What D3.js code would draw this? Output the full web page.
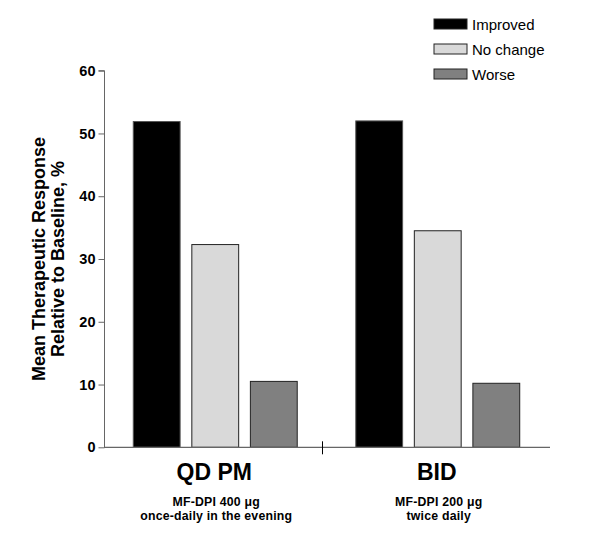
<!DOCTYPE html>
<html>
<head>
<meta charset="utf-8">
<script src="https://cdn.jsdelivr.net/npm/d3@7"></script>
<style>
  body { margin: 0; background: #fff; }
  svg { display: block; font-family: "Liberation Sans", Arial, sans-serif; }
</style>
</head>
<body>
<svg id="chart" width="600" height="540"></svg>
<script>
const groups = ["QD PM", "BID"];
const groupSub1 = ["MF-DPI 400 \u03bcg", "MF-DPI 200 \u03bcg"];
const groupSub2 = ["once-daily in the evening", "twice daily"];
const seriesNames = ["Improved", "No change", "Worse"];
const improved = [51.9, 52.0];
const noChange = [32.3, 34.5];
const worse = [10.5, 10.2];
const yTicks = [0, 10, 20, 30, 40, 50, 60];

const colors = ["#000000", "#d9d9d9", "#808080"];
const strokes = ["#555555", "#222222", "#222222"];
const seriesValues = [improved, noChange, worse];

const svg = d3.select("#chart");
const x0 = d3.scaleBand().domain(groups).range([104, 549]);
const x1 = d3.scaleBand().domain(seriesNames).range([0, x0.bandwidth()]).paddingInner(0.2).paddingOuter(0.5);
const y = d3.scaleLinear().domain([0, 60]).range([447.3, 70.7]);

// bars
groups.forEach((g, gi) => {
  seriesNames.forEach((s, si) => {
    const v = seriesValues[si][gi];
    svg.append("rect")
      .attr("x", x0(g) + x1(s))
      .attr("y", y(v))
      .attr("width", x1.bandwidth())
      .attr("height", y(0) - y(v))
      .attr("fill", colors[si])
      .attr("stroke", strokes[si])
      .attr("stroke-width", 1);
  });
});

// y axis
const yAxis = svg.append("g")
  .attr("transform", "translate(104.5,0)")
  .call(d3.axisLeft(y).tickValues(yTicks).tickSize(6).tickPadding(3).tickFormat(d3.format("d")));
yAxis.select(".domain").attr("stroke", "#666").attr("d", `M-6,${y(60)}H0V${y(0)}`);
yAxis.selectAll(".tick line").attr("stroke", "#666");
yAxis.selectAll(".tick text")
  .attr("font-size", 14.5).attr("font-weight", "bold").attr("fill", "#000")
  .attr("font-family", "Liberation Sans, Arial, sans-serif");

// x axis baseline
svg.append("line")
  .attr("x1", 104).attr("x2", 550)
  .attr("y1", y(0)).attr("y2", y(0))
  .attr("stroke", "#666").attr("stroke-width", 1.2);

// middle separator tick
const sepX = x0("BID") - 4;
svg.append("line")
  .attr("x1", sepX).attr("x2", sepX)
  .attr("y1", y(0) - 6).attr("y2", y(0) + 7)
  .attr("stroke", "#000").attr("stroke-width", 1);

// group labels
groups.forEach((g, gi) => {
  const cx = x0(g) + x0.bandwidth() / 2;
  svg.append("text").attr("x", cx - 1).attr("y", 480)
    .attr("text-anchor", "middle").attr("font-size", 23).attr("font-weight", "bold")
    .text(g);
  svg.append("text").attr("x", cx + 1).attr("y", 506)
    .attr("text-anchor", "middle").attr("font-size", 12.3).attr("font-weight", "bold")
    .attr("letter-spacing", 0.2)
    .text(groupSub1[gi]);
  svg.append("text").attr("x", cx + 1).attr("y", 520)
    .attr("text-anchor", "middle").attr("font-size", 12.3).attr("font-weight", "bold")
    .attr("letter-spacing", 0.2)
    .text(groupSub2[gi]);
});

// y title
const yt = svg.append("text")
  .attr("transform", `translate(45,${(y(0) + y(60)) / 2}) rotate(-90)`)
  .attr("text-anchor", "middle").attr("font-size", 18).attr("font-weight", "bold");
yt.append("tspan").attr("x", 0).attr("dy", 0).text("Mean Therapeutic Response");
yt.append("tspan").attr("x", 0).attr("dy", 19).text("Relative to Baseline, %");

// legend
seriesNames.forEach((s, si) => {
  const ly = 19 + si * 25;
  svg.append("rect")
    .attr("x", 434).attr("y", ly).attr("width", 33).attr("height", 10)
    .attr("fill", colors[si]).attr("stroke", "#222").attr("stroke-width", 1);
  svg.append("text").attr("x", 472).attr("y", ly + 10.5)
    .attr("font-size", 15).text(s);
});
</script>
</body>
</html>
